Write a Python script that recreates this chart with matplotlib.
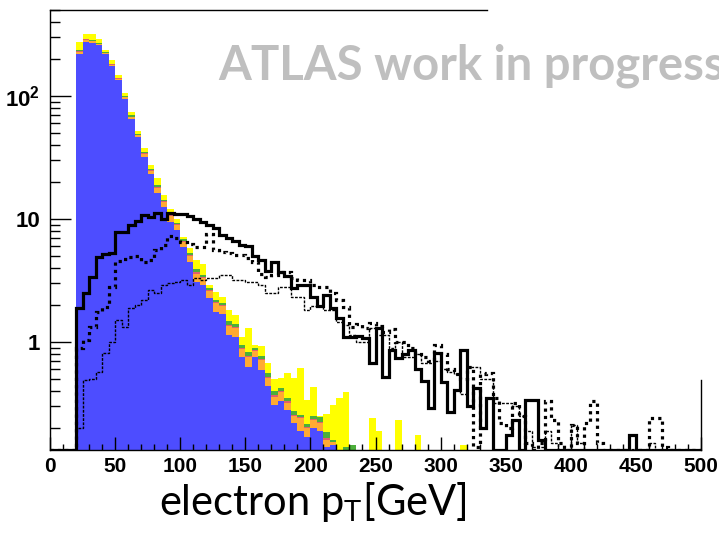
import numpy as np
import matplotlib.pyplot as plt
from matplotlib.ticker import MultipleLocator, LogLocator, NullFormatter

plt.rcParams['mathtext.fontset'] = 'custom'
plt.rcParams['mathtext.rm'] = 'Lato'
plt.rcParams['mathtext.bf'] = 'Liberation Sans:bold'

# 5 GeV bins, lists start at the 20 GeV bin
bin_width = 5
first_bin = 20
edges = np.arange(0, 505, bin_width)

# stacked backgrounds (bottom to top)
bkg_blue = [219, 277, 270, 258, 218, 176, 135, 95, 65, 46, 32, 23, 16.4, 12.6, 9.5, 8.1,
            5.95, 4.5, 3.1, 2.9, 2.26, 1.76, 1.7, 1.14, 1.1, 0.76, 0.63, 0.76, 0.59, 0.44,
            0.31, 0.33, 0.28, 0.22, 0.19, 0.17, 0.2, 0.19, 0.14, 0.145, 0.05, 0.1, 0.1]
bkg_orange = [8, 8, 8, 5, 4, 4, 3, 2.5, 2.5, 2, 2, 1.5, 1.5, 1.2, 1.0, 0.8, 0.6, 0.5, 0.5,
              0.4, 0.35, 0.3, 0.25, 0.2, 0.2, 0.12, 0.12, 0.08, 0.12, 0.07, 0.05, 0.06,
              0.04, 0.03, 0.05, 0.03, 0.03, 0.03, 0.02, 0.01, 0.02, 0.02, 0.0]
bkg_red = [4, 3, 3, 3, 2, 1.5, 1, 0.8, 0.5, 0.4, 0.3, 0.3, 0.3, 0.2, 0.2, 0.15, 0.1, 0.1,
           0.1, 0.05, 0.05, 0.05, 0.04, 0.04, 0.03, 0.02, 0.02, 0.02, 0.02, 0.01, 0.01,
           0.01, 0.01, 0.005, 0.005, 0.005, 0.005, 0.005, 0.005, 0, 0, 0, 0]
bkg_green = [5, 4, 4, 3, 2, 2, 2, 1.5, 1.5, 1, 0.8, 0.6, 0.6, 0.4, 0.3, 0.3, 0.2, 0.2, 0.2,
             0.15, 0.1, 0.1, 0.08, 0.1, 0.08, 0.05, 0.06, 0.04, 0.04, 0.04, 0.03, 0.02,
             0.02, 0.02, 0.01, 0.01, 0.015, 0.02, 0.02, 0.005, 0.02, 0.02, 0.045]
bkg_yellow = [39, 30, 33, 20, 11, 12.5, 7, 5.2, 4.5, 2.6, 2.9, 2.1, 2.6, 1.3, 1.0, 0.6,
              0.25, 0.5, 0.7, 0.8, 0.14, 0.35, 0.26, 0.34, 0.25, 0.15, 0.46, 0.05, 0.15,
              0.11, 0.1, 0.09, 0.21, 0.235, 0.355, 0.125, 0.18, 0.005, 0.075, 0.15, 0.26,
              0.25, 0, 0, 0, 0.24, 0.19, 0, 0, 0.23, 0, 0, 0.176, 0, 0, 0, 0, 0, 0, 0.146]

# signal samples
sig_solid = [1.89, 2.5, 3.4, 4.9, 5.2, 5.3, 7.9, 7.9, 8.9, 9.7, 10.8, 10.3, 11.1, 10.0,
             11.1, 11.0, 10.9, 10.5, 10.0, 9.5, 8.9, 8.4, 7.4, 7.0, 6.6, 6.2, 6.0, 5.0,
             4.6, 3.8, 4.5, 3.7, 3.45, 2.75, 2.9, 2.9, 2.3, 1.95, 2.4, 1.9, 1.57, 1.1, 1.1,
             1.12, 1.07, 0.67, 1.3, 0.52, 0.86, 0.74, 0.8, 0.86, 0.6, 0.48, 0.29, 0.81,
             0.47, 0.27, 0.41, 0.86, 0.3, 0.42, 0.2, 0.35, 0, 0, 0.176, 0.23, 0, 0.34,
             0.34, 0.16, 0, 0, 0, 0, 0, 0, 0, 0, 0, 0, 0, 0, 0, 0.176]
sig_dotted = [0.89, 1.04, 1.33, 1.76, 1.94, 2.78, 4.58, 4.7, 4.94, 5.0, 4.5, 4.6, 5.6,
              6.1, 7.3, 7.0, 6.5, 6.3, 5.95, 5.95, 7.6, 5.6, 5.4, 5.3, 5.1, 5.1, 4.8, 4.5,
              3.6, 3.4, 3.5, 3.7, 3.7, 3.3, 3.2, 3.2, 2.9, 2.8, 2.8, 2.5, 2.2, 1.92, 1.33,
              1.4, 1.3, 1.42, 1.35, 1.2, 1.27, 1.0, 1.0, 0.9, 0.8, 0.75, 0.7, 0.95, 0.8,
              0.6, 0.55, 0.5, 0.63, 0.14, 0.55, 0.56, 0.35, 0.22, 0.2, 0.32, 0.25, 0.15,
              0, 0.15, 0.33, 0.23, 0.15, 0, 0.21, 0.15, 0.22, 0.33, 0.15, 0, 0, 0, 0, 0,
              0, 0, 0.24, 0.24, 0.14]
sig_thin = [0.2, 0.49, 0.5, 0.57, 0.81, 1.0, 1.51, 1.33, 1.88, 2.0, 2.19, 2.65, 2.5, 2.9,
            3.0, 3.09, 3.2, 2.9, 3.3, 3.2, 3.3, 3.3, 3.5, 3.5, 3.2, 3.2, 3.1, 3.1, 2.9,
            2.5, 2.5, 2.8, 2.8, 2.33, 2.33, 1.82, 1.95, 1.95, 1.82, 1.82, 1.46, 1.38,
            1.14, 1.0, 1.0, 1.3, 1.14, 1.14, 0.89, 1.0, 0.76, 0.76, 0.8, 0.67, 0.67, 0.7,
            0.6, 0.57, 0.55, 0.38, 0.63, 0.63, 0.5, 0.5, 0.32, 0.32, 0.32, 0.3, 0.25,
            0.19, 0.14, 0.14, 0.19, 0.15, 0, 0, 0.21, 0.15, 0, 0, 0, 0, 0, 0, 0, 0, 0, 0,
            0.15]

ylo, yhi = 0.1324, 500


def pad(vals):
    out = np.zeros(len(edges) - 1)
    i0 = first_bin // bin_width
    out[i0:i0 + len(vals)] = vals
    return out


fig = plt.figure(figsize=(7.19, 5.35), dpi=100)
ax = fig.add_axes([50 / 719, 85 / 535, 651 / 719, 440 / 535])

layers = [(bkg_blue, '#4d4dff'), (bkg_orange, '#ffaa33'), (bkg_red, '#e0606b'),
          (bkg_green, '#4caf3a'), (bkg_yellow, '#ffff00')]
bottom = np.zeros(len(edges) - 1)
for vals, col in layers:
    top = bottom + pad(vals)
    ax.stairs(top, edges, baseline=np.maximum(bottom, 1e-3), fill=True,
              color=col, lw=0, zorder=1)
    bottom = top

ax.stairs(np.clip(pad(sig_thin), ylo, None), edges, baseline=None, color='black',
          lw=1.0, linestyle=(0, (2, 1)), zorder=3)
ax.stairs(np.clip(pad(sig_dotted), ylo, None), edges, baseline=None, color='black',
          lw=2.3, linestyle=(0, (1, 1.3)), zorder=4)
ax.stairs(np.clip(pad(sig_solid), ylo, None), edges, baseline=None, color='black',
          lw=2.3, zorder=5)

ax.set_yscale('log')
ax.set_xlim(0, 500)
ax.set_ylim(ylo, yhi)

ax.xaxis.set_major_locator(MultipleLocator(50))
ax.xaxis.set_minor_locator(MultipleLocator(10))
ax.set_yticks([1, 10, 100])
ax.set_yticklabels(['1', '10', r'$\mathbf{10^{2}}$'])
ax.yaxis.set_minor_locator(LogLocator(base=10, subs=np.arange(2, 10)))
ax.yaxis.set_minor_formatter(NullFormatter())

ax.tick_params(axis='x', which='major', direction='in', length=9.5, width=1, pad=5)
ax.tick_params(axis='x', which='minor', direction='in', length=4.5, width=1)
ax.tick_params(axis='y', which='major', direction='in', length=15, width=1, pad=7)
ax.tick_params(axis='y', which='minor', direction='in', length=7.5, width=1)
for lab in ax.get_xticklabels():
    lab.set_fontfamily('Liberation Sans')
    lab.set_fontweight('bold')
    lab.set_fontsize(15)
for lab in ax.get_yticklabels():
    lab.set_fontfamily('Liberation Sans')
    lab.set_fontweight('bold')
    lab.set_fontsize(16)

for side in ['left', 'bottom', 'top', 'right']:
    ax.spines[side].set_linewidth(1)
    ax.spines[side].set_zorder(6)
ax.spines['top'].set_bounds(0, 336)
ax.spines['right'].set_bounds(ylo, 0.49)

fig.text(218 / 719, 1 - 80 / 535, 'ATLAS work in progress', color='#bfbfbf',
         fontsize=34, fontweight='bold', family='Lato', ha='left', va='baseline')
fig.text(313 / 719, 1 - 515 / 535, r'electron p$_\mathrm{T}$[GeV]', color='black',
         fontsize=30, family='Lato', ha='center', va='baseline')

fig.savefig('out.png', dpi=100)
